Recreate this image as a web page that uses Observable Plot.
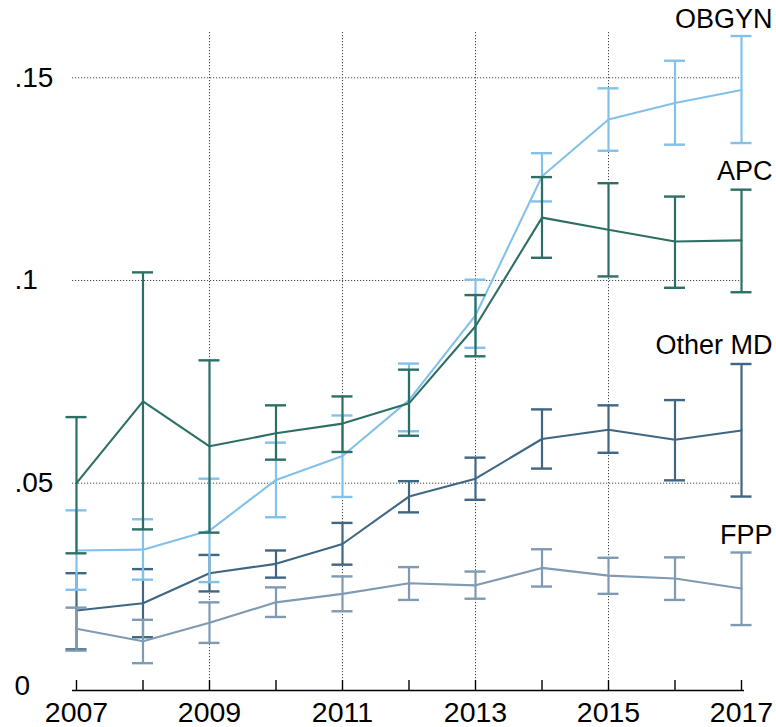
<!DOCTYPE html>
<html>
<head>
<meta charset="utf-8">
<script src="https://cdn.jsdelivr.net/npm/d3@7"></script>
<script src="https://cdn.jsdelivr.net/npm/@observablehq/plot@0.6"></script>
<style>
  html, body { margin: 0; padding: 0; background: #fff; }
  #chart { width: 776px; height: 727px; }
</style>
</head>
<body>
<div id="chart"></div>
<script>
// ---- data ----
const years = [2007, 2008, 2009, 2010, 2011, 2012, 2013, 2014, 2015, 2016, 2017];

const obgyn   = [0.0334, 0.0336, 0.0383, 0.0508, 0.0567, 0.0705, 0.0914, 0.1257, 0.1397, 0.1438, 0.1470];
const obgynLo = [0.0237, 0.0262, 0.0256, 0.0416, 0.0466, 0.0628, 0.0834, 0.1195, 0.1320, 0.1335, 0.1339];
const obgynHi = [0.0433, 0.0411, 0.0511, 0.0600, 0.0667, 0.0795, 0.1002, 0.1314, 0.1474, 0.1542, 0.1603];

const apc   = [0.0500, 0.0702, 0.0591, 0.0623, 0.0647, 0.0697, 0.0887, 0.1155, 0.1125, 0.1096, 0.1099];
const apcLo = [0.0327, 0.0386, 0.0378, 0.0558, 0.0577, 0.0617, 0.0813, 0.1056, 0.1010, 0.0982, 0.0971];
const apcHi = [0.0663, 0.1020, 0.0803, 0.0692, 0.0714, 0.0780, 0.0964, 0.1255, 0.1240, 0.1207, 0.1224];

const otherMd   = [0.0186, 0.0204, 0.0278, 0.0301, 0.0350, 0.0467, 0.0511, 0.0609, 0.0632, 0.0607, 0.0630];
const otherMdLo = [0.0090, 0.0120, 0.0233, 0.0267, 0.0299, 0.0428, 0.0459, 0.0536, 0.0575, 0.0507, 0.0467];
const otherMdHi = [0.0278, 0.0288, 0.0323, 0.0334, 0.0402, 0.0505, 0.0563, 0.0682, 0.0692, 0.0705, 0.0794];

const fpp   = [0.0141, 0.0110, 0.0156, 0.0206, 0.0227, 0.0253, 0.0248, 0.0291, 0.0272, 0.0265, 0.0240];
const fppLo = [0.0087, 0.0056, 0.0106, 0.0170, 0.0184, 0.0212, 0.0215, 0.0245, 0.0227, 0.0212, 0.0150];
const fppHi = [0.0193, 0.0163, 0.0206, 0.0243, 0.0270, 0.0293, 0.0282, 0.0337, 0.0316, 0.0317, 0.0329];

// series names, colours, label positions (value units)
const seriesNames  = ["Other MD", "FPP", "OBGYN", "APC"];
const seriesColors = ["#3f6682", "#7f9ab2", "#83c1ea", "#2e6f65"];
const labelNames   = ["OBGYN", "APC", "Other MD", "FPP"];
const labelY       = [0.1645, 0.1269, 0.0841, 0.0371];

const yTicks      = [0, 0.05, 0.1, 0.15];
const yTickLabels = ["0", ".05", ".1", ".15"];
const yGrid       = [0.05, 0.1, 0.15];
const xGrid       = [2009, 2011, 2013, 2015];
const xLabelYears = [2007, 2009, 2011, 2013, 2015, 2017];

// ---- build table ----
const seriesValues = {
  "Other MD": [otherMd, otherMdLo, otherMdHi],
  "FPP": [fpp, fppLo, fppHi],
  "OBGYN": [obgyn, obgynLo, obgynHi],
  "APC": [apc, apcLo, apcHi]
};
const colorOf = Object.fromEntries(seriesNames.map((s, i) => [s, seriesColors[i]]));

const xDomain = [2006.94, 2017.045];
const yDomain = [-0.00114, 0.16117];
const yMin = yDomain[0];

const font = "'Liberation Sans', Arial, Helvetica, sans-serif";

const marks = [];

// dotted grid
marks.push(Plot.ruleY(yGrid, {stroke: "#444", strokeWidth: 1, strokeDasharray: "1.2,1.8"}));
marks.push(Plot.ruleX(xGrid, {stroke: "#444", strokeWidth: 1, strokeDasharray: "1.2,1.8"}));

// series
for (const s of seriesNames) {
  const [v, lo, hi] = seriesValues[s];
  const rows = years.map((yr, i) => ({year: yr, v: v[i], lo: lo[i], hi: hi[i]}));
  const c = colorOf[s];
  marks.push(Plot.ruleX(rows, {x: "year", y1: "lo", y2: "hi", stroke: c, strokeWidth: 2.2}));
  marks.push(Plot.ruleY(rows, {y: "hi", x1: "year", x2: "year", insetLeft: -10.5, insetRight: -10.5, stroke: c, strokeWidth: 2.4}));
  marks.push(Plot.ruleY(rows, {y: "lo", x1: "year", x2: "year", insetLeft: -10.5, insetRight: -10.5, stroke: c, strokeWidth: 2.4}));
  marks.push(Plot.line(rows, {x: "year", y: "v", stroke: c, strokeWidth: 2.1}));
}

// x axis line and inward ticks
marks.push(Plot.ruleY([yMin], {stroke: "#000", strokeWidth: 1.4}));
marks.push(Plot.ruleX(years, {x: d => d, y1: yMin, y2: yMin, insetTop: -10, insetBottom: 0, stroke: "#000", strokeWidth: 1.4}));

// x tick labels
marks.push(Plot.axisX(xLabelYears, {tickSize: 0, tickPadding: 11, fontSize: 28.5, tickFormat: d => String(d), fill: "#000", label: null}));

// y tick labels (left aligned)
marks.push(Plot.text(yTicks, {y: d => d, text: (d, i) => yTickLabels[i], frameAnchor: "left", textAnchor: "start", dx: -58, fontSize: 28, fill: "#000"}));

// series labels
marks.push(Plot.text(labelNames, {x: () => 2017, y: (d, i) => labelY[i], text: d => d, textAnchor: "end", dx: 31, fontSize: 27, fill: "#000"}));

const chart = Plot.plot({
  width: 776,
  height: 727,
  marginLeft: 72,
  marginRight: 32,
  marginTop: 32,
  marginBottom: 37,
  x: {domain: xDomain, axis: null, label: null},
  y: {domain: yDomain, axis: null, label: null},
  style: {fontFamily: font, background: "#fff", overflow: "visible"},
  marks
});
document.getElementById("chart").appendChild(chart);
</script>
</body>
</html>
